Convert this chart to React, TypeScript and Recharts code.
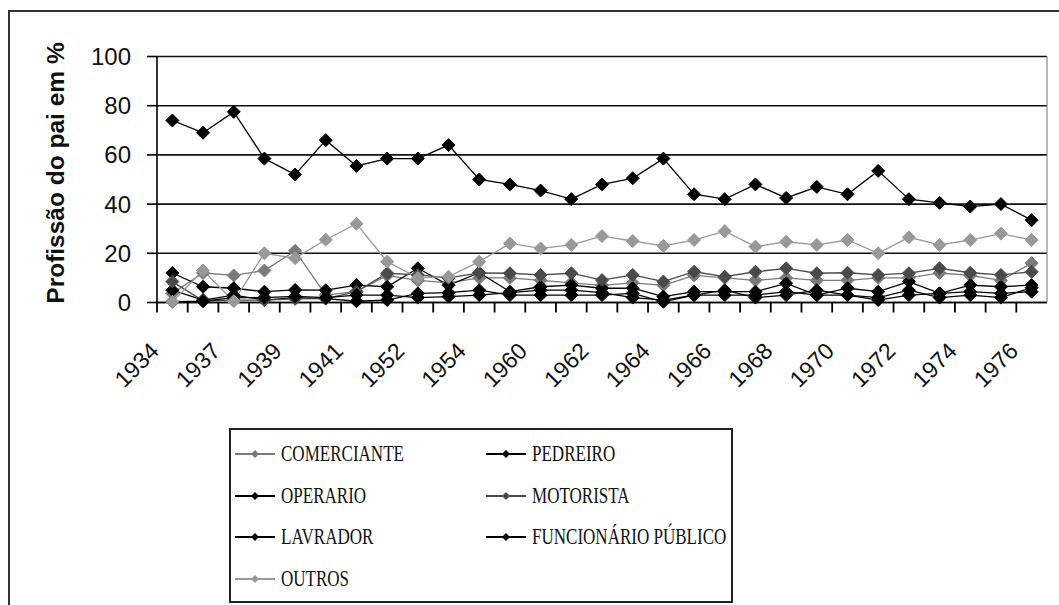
import { LineChart, Line, XAxis, YAxis, CartesianGrid, Legend } from "recharts";

const years = [
  "1934", "1936", "1937", "1938", "1939", "1940", "1941", "1950", "1952", "1953",
  "1954", "1958", "1960", "1961", "1962", "1963", "1964", "1965", "1966", "1967",
  "1968", "1969", "1970", "1971", "1972", "1973", "1974", "1975", "1976",
];

const comerciante = [3.7, 12, 11, 13, 21, 3, 4.5, 11, 9, 8, 10, 10, 9, 8, 7, 8, 7, 11, 10, 9, 10, 9, 9, 10, 10, 12, 11, 9, 16];
const pedreiro = [12, 6.4, 5.8, 4.4, 5.1, 5, 7.1, 6.4, 13.9, 7, 12.1, 4.4, 6.4, 7.1, 5.8, 5.8, 2.4, 4.4, 4.4, 4.4, 7.8, 3, 5.8, 4.4, 8.5, 3.7, 7.1, 6.4, 7.1];
const operario = [5, 1, 3, 1, 2, 1.6, 0.5, 1, 3.7, 4, 5, 3, 3, 3, 3, 3.7, 0.3, 3, 3, 3, 4.4, 3, 3, 1, 3, 3.7, 4.4, 3.7, 4.4];
const motorista = [8.5, 0.7, 1, 1, 1.5, 1.6, 4.4, 11.9, 11.2, 10, 12, 11.9, 11.2, 11.9, 9.1, 11.2, 8.5, 12.5, 10.5, 12.5, 13.9, 11.9, 12.1, 11.2, 11.9, 13.9, 12.1, 11.2, 12.5];
const lavrador = [74, 69, 77.5, 58.5, 52, 66, 55.5, 58.5, 58.5, 64, 50, 48, 45.5, 42, 48, 50.5, 58.5, 44, 42, 48, 42.5, 47, 44, 53.5, 42, 40.5, 39, 40, 33.5];
const funcionario = [0.3, 0.5, 2, 2, 2.5, 2, 3, 3, 2, 2.4, 3, 4, 5, 5, 4, 2, 1, 3, 5, 2, 3, 5, 3, 2, 5, 2, 3, 2, 6];
const outros = [0.3, 13, 0.5, 20, 18, 25.5, 32, 16.6, 10, 10.5, 16.6, 24, 22, 23.4, 27, 25, 23, 25.4, 29, 22.7, 24.7, 23.4, 25.4, 20, 26.5, 23.4, 25.4, 28, 25.4];

const yTicks = [0, 20, 40, 60, 80, 100];

const series = [
  { key: "comerciante", name: "COMERCIANTE", color: "#7a7a7a", values: comerciante },
  { key: "pedreiro", name: "PEDREIRO", color: "#000000", values: pedreiro },
  { key: "operario", name: "OPERARIO", color: "#000000", values: operario },
  { key: "motorista", name: "MOTORISTA", color: "#4a4a4a", values: motorista },
  { key: "lavrador", name: "LAVRADOR", color: "#000000", values: lavrador },
  { key: "funcionario", name: "FUNCIONÁRIO PÚBLICO", color: "#000000", values: funcionario },
  { key: "outros", name: "OUTROS", color: "#999999", values: outros },
];

const data = years.map((year, i) => {
  const row: Record<string, string | number> = { year };
  series.forEach((s) => (row[s.key] = s.values[i]));
  return row;
});

// plot area in page pixels
const PLOT_LEFT = 157;
const PLOT_RIGHT = 1047;
const PLOT_TOP = 56.5;
const PLOT_BOTTOM = 302.5;
const BAND = (PLOT_RIGHT - PLOT_LEFT) / years.length;
const X_AXIS_H = 90;
const Y_AXIS_W = 60;

function YearTick(props: any) {
  const { x, payload, index } = props;
  if (index % 2 !== 0) return <g />;
  const bx = x - 12;
  const by = PLOT_BOTTOM + 50;
  return (
    <text
      x={bx}
      y={by}
      textAnchor="end"
      transform={`rotate(-45 ${bx} ${by})`}
      fontSize={23}
      fontFamily="'Liberation Sans', Arial, sans-serif"
      fill="#111"
    >
      {payload.value}
    </text>
  );
}

const diamond = (color: string, r: number) => (p: any) => {
  if (p.cx == null || p.cy == null) return <g key={p.index} />;
  return (
    <path
      key={p.index}
      d={`M${p.cx},${p.cy - r}L${p.cx + r},${p.cy}L${p.cx},${p.cy + r}L${p.cx - r},${p.cy}Z`}
      fill={color}
      stroke={color}
      strokeWidth={1}
    />
  );
};

function YTitle() {
  return (
    <text
      x={64}
      y={173}
      textAnchor="middle"
      transform="rotate(-90 64 173)"
      fontSize={24.5}
      fontWeight="bold"
      fontFamily="'Liberation Sans', Arial, sans-serif"
      fill="#111"
    >
      Profissão do pai em %
    </text>
  );
}

function LegendBox() {
  return (
    <div
      style={{
        boxSizing: "border-box",
        width: 504,
        height: 175,
        border: "2px solid #222",
        background: "#fff",
        display: "grid",
        gridTemplateColumns: "251px 251px",
        gridAutoRows: "41.7px",
        paddingTop: 3,
        paddingLeft: 4,
      }}
    >
      {series.map((s) => (
        <div key={s.key} style={{ display: "flex", alignItems: "center", height: 41.7 }}>
          <svg width={40} height={14} style={{ flex: "none" }}>
            <line x1={0} y1={7} x2={40} y2={7} stroke={s.color} strokeWidth={2} />
            <path d="M20,3L24,7L20,11L16,7Z" fill={s.color} />
          </svg>
          <span
            style={{
              marginLeft: 6,
              fontFamily: "'Liberation Serif', 'Times New Roman', serif",
              fontSize: 23,
              color: "#111",
              whiteSpace: "nowrap",
              display: "inline-block",
              transform: "scaleX(0.74)",
              transformOrigin: "left center",
            }}
          >
            {s.name}
          </span>
        </div>
      ))}
    </div>
  );
}

export default function App() {
  return (
    <div
      style={{
        position: "fixed",
        left: 0,
        top: 0,
        width: 1059,
        height: 605,
        overflow: "hidden",
        background: "#fff",
      }}
    >
      <div
        style={{
          position: "absolute",
          left: 8,
          top: 10,
          width: 1100,
          height: 700,
          border: "2px solid #333",
        }}
      />
      <div style={{ position: "absolute", left: 0, top: 0 }}>
        <LineChart
          width={1059}
          height={605}
          data={data}
          margin={{
            top: PLOT_TOP,
            right: 1059 - PLOT_RIGHT - 1,
            left: PLOT_LEFT - Y_AXIS_W,
            bottom: 605 - PLOT_BOTTOM - X_AXIS_H,
          }}
        >
          <CartesianGrid vertical={false} stroke="#111" strokeWidth={1.6} />
          <XAxis
            dataKey="year"
            scale="band"
            interval={0}
            height={X_AXIS_H}
            tickSize={10}
            tickMargin={0}
            tickLine={{ stroke: "#000", strokeWidth: 1.8, transform: `translate(${-BAND / 2} 0)` }}
            axisLine={{ stroke: "#000", strokeWidth: 1.6 }}
            tick={<YearTick />}
          />
          <YAxis
            width={Y_AXIS_W}
            domain={[0, 100]}
            ticks={yTicks}
            interval={0}
            tickSize={10}
            tickMargin={16}
            axisLine={{ stroke: "#000", strokeWidth: 1.6 }}
            tickLine={{ stroke: "#000", strokeWidth: 1.6 }}
            tick={{ fontSize: 24, fill: "#111", fontFamily: "'Liberation Sans', Arial, sans-serif" }}
            label={<YTitle />}
          />
          <YAxis
            yAxisId="right"
            orientation="right"
            width={1}
            domain={[0, 100]}
            ticks={[0]}
            tick={false}
            tickLine={false}
            axisLine={{ stroke: "#888", strokeWidth: 1.2 }}
          />
          <Legend
            layout="vertical"
            align="center"
            verticalAlign="middle"
            wrapperStyle={{ left: 229, top: 428, width: 504, height: 175 }}
            content={() => <LegendBox />}
          />
          {series.map((s) => (
            <Line
              key={s.key}
              dataKey={s.key}
              name={s.name}
              stroke={s.color}
              strokeWidth={1.3}
              dot={diamond(s.color, 6.5)}
              activeDot={false}
              isAnimationActive={false}
            />
          ))}
        </LineChart>
      </div>
    </div>
  );
}
